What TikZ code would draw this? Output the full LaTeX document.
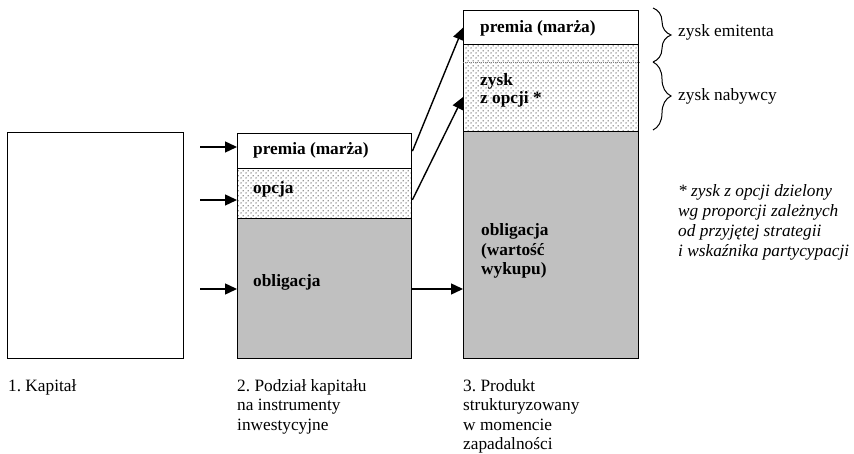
\documentclass[tikz,border=0pt]{standalone}
\usepackage{fontspec}
\setmainfont{Liberation Serif}
\usetikzlibrary{patterns,decorations.pathreplacing,arrows.meta,calc}
\pgfdeclarepatternformonly{mydots}{\pgfqpoint{0pt}{0pt}}{\pgfqpoint{5pt}{5pt}}{\pgfqpoint{5pt}{5pt}}{%
  \pgfpathcircle{\pgfqpoint{1.25pt}{1.25pt}}{0.8pt}%
  \pgfpathcircle{\pgfqpoint{3.75pt}{3.75pt}}{0.8pt}%
  \pgfusepath{fill}%
}
\definecolor{obgray}{HTML}{C0C0C0}
\frenchspacing
\tikzset{
  seg/.style={draw, line width=1.4pt, rectangle, inner sep=0pt, anchor=north west},
  dotseg/.style={seg, pattern=mydots, pattern color=black!70},
  grayseg/.style={seg, fill=obgray},
  arr/.style={line width=1.4pt, -{Triangle[length=12pt,width=11pt]}},
  txt/.style={inner sep=0pt, anchor=base west, align=left, font=\fontsize{17.3}{19.5}\selectfont\frenchspacing},
  btxt/.style={txt, font=\fontsize{17.3}{19.5}\selectfont\bfseries\frenchspacing},
  itxt/.style={txt, font=\fontsize{17.3}{19.8}\selectfont\itshape\frenchspacing},
  bracestyle/.style={decorate, decoration={brace, amplitude=18pt}, line width=1pt},
}
\begin{document}
\begin{tikzpicture}[x=1pt,y=-1pt]
\useasboundingbox (0,0) rectangle (854,454);
% box 1
\node[seg, minimum width=176pt, minimum height=226pt] (box1) at (7,132) {};
% box 2
\node[seg, minimum width=174pt, minimum height=35pt] (b2prem) at (237,133) {};
\node[dotseg, minimum width=174pt, minimum height=50pt] (b2opc) at (237,168) {};
\node[grayseg, minimum width=174pt, minimum height=140pt] (b2obl) at (237,218) {};
% box 3
\node[seg, minimum width=175pt, minimum height=34pt] (b3prem) at (463,10) {};
\node[dotseg, minimum width=175pt, minimum height=87pt] (b3opc) at (463,44) {};
\node[grayseg, minimum width=175pt, minimum height=227pt] (b3obl) at (463,131) {};
\draw[gray, line width=0.8pt, dash pattern=on 1pt off 1pt] ($(b3opc.north west)+(0,18)$) -- ($(b3opc.north east)+(0,18)$);
% texts in boxes (multi-line nodes: base = last line's baseline)
\node[btxt] (t2prem) at (253,155) {premia (marża)};
\node[btxt] (t2opc) at (253,194) {opcja};
\node[btxt] (t2obl) at (253,287) {obligacja};
\node[btxt] (t3prem) at (480,33) {premia (marża)};
\node[btxt, font=\fontsize{17.3}{18}\selectfont\bfseries\frenchspacing] (t3zysk) at (480,104) {zysk\\z opcji *};
\node[btxt] (t3obl) at (481,275) {obligacja\\(wartość\\wykupu)};
% input arrows
\coordinate (in1) at (200,147);
\coordinate (in2) at (200,200);
\coordinate (in3) at (200,289);
\draw[arr] (in1) -- (in1 -| b2prem.west);
\draw[arr] (in2) -- (in2 -| b2opc.west);
\draw[arr] (in3) -- (in3 -| b2obl.west);
% arrows box2 -> box3
\draw[arr] (b2obl.east |- in3) -- (in3 -| b3obl.west);
\draw[arr] (b2prem.east) -- (b3prem.west);
\draw[arr] ($(b2opc.north east)!0.62!(b2opc.south east)$) -- ($(b3opc.north west)!0.6!(b3opc.south west)$);
% braces
\coordinate (br1a) at (653,8);
\coordinate (br1b) at (653,62);
\coordinate (br2a) at (653,62);
\coordinate (br2b) at (653,130);
\draw[bracestyle] (br1a) -- (br1b);
\draw[bracestyle] (br2a) -- (br2b);
\node[txt] (zem) at (678,37) {zysk emitenta};
\node[txt] (zna) at (678,101) {zysk nabywcy};
% footnote
\node[itxt] (foot) at (678,256.4) {* zysk z opcji dzielony\\wg proporcji zależnych\\od przyjętej strategii\\i wskaźnika partycypacji};
% captions
\node[txt] (cap1) at (8,391) {1. Kapitał};
\node[txt] (cap2) at (237,430) {2. Podział kapitału\\na instrumenty\\inwestycyjne};
\node[txt] (cap3) at (463,449.5) {3. Produkt\\strukturyzowany\\w momencie\\zapadalności};
\end{tikzpicture}
\end{document}
